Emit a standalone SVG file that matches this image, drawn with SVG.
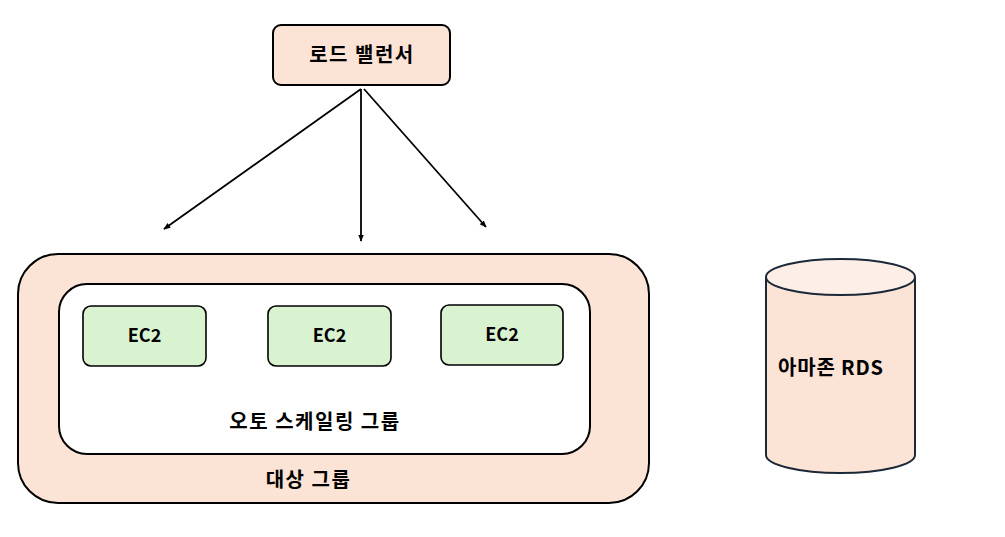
<svg xmlns="http://www.w3.org/2000/svg" width="1005" height="537" viewBox="0 0 1005 537">
<defs>
<style>
.lbl{font-family:"Noto Sans CJK KR","Liberation Sans",sans-serif;font-weight:bold;font-size:20px;letter-spacing:1.5px;fill:#000;}
.en{font-family:"Noto Sans CJK KR","Liberation Sans",sans-serif;font-weight:bold;font-size:18px;fill:#000;}
.peach{fill:#fbe3d6;stroke:#000;stroke-width:2;}
.ec2{fill:#d9f2d0;stroke:#000;stroke-width:1.6;}
.conn{stroke:#000;stroke-width:1.8;fill:none;marker-end:url(#ah);}
</style>
<marker id="ah" viewBox="0 0 10 10" refX="9" refY="5" markerWidth="7" markerHeight="7" orient="auto" markerUnits="userSpaceOnUse">
<path d="M0,1 L10,5 L0,9 Z" fill="#000"/>
</marker>
</defs>
<rect width="1005" height="537" fill="#fff"/>
<g id="lb">
<rect class="peach" x="273" y="25" width="177" height="60" rx="8"/>
<text class="lbl" x="362" y="62" text-anchor="middle">로드 밸런서</text>
</g>
<g id="connectors">
<line class="conn" x1="361" y1="89" x2="164" y2="229"/>
<line class="conn" x1="361" y1="89" x2="361" y2="241"/>
<line class="conn" x1="364" y1="89" x2="486" y2="227"/>
</g>
<g id="target-group">
<rect class="peach" x="18" y="254" width="631" height="249" rx="40"/>
<text class="lbl" x="308.5" y="487" text-anchor="middle">대상 그룹</text>
</g>
<g id="asg">
<rect x="59" y="284" width="531" height="170" rx="28" fill="#fff" stroke="#000" stroke-width="2"/>
<text class="lbl" x="315" y="429" text-anchor="middle">오토 스케일링 그룹</text>
</g>
<g id="ec2-1">
<rect class="ec2" x="83" y="306" width="123" height="60" rx="8"/>
<text class="en" x="144.5" y="342" text-anchor="middle">EC2</text>
</g>
<g id="ec2-2">
<rect class="ec2" x="268" y="306" width="123" height="60" rx="8"/>
<text class="en" x="329.5" y="342" text-anchor="middle">EC2</text>
</g>
<g id="ec2-3">
<rect class="ec2" x="441" y="305" width="122" height="60" rx="8"/>
<text class="en" x="502" y="341" text-anchor="middle">EC2</text>
</g>
<g id="rds">
<path d="M766,277 L766,455 A74.5,18 0 0 0 915,455 L915,277" fill="#fbe3d6" stroke="#1b2838" stroke-width="2"/>
<ellipse cx="840.5" cy="277" rx="74.5" ry="18" fill="#fdefe7" stroke="#1b2838" stroke-width="2"/>
<text class="lbl" x="778" y="375" style="letter-spacing:0.8px">아마존 RDS</text>
</g>
</svg>
